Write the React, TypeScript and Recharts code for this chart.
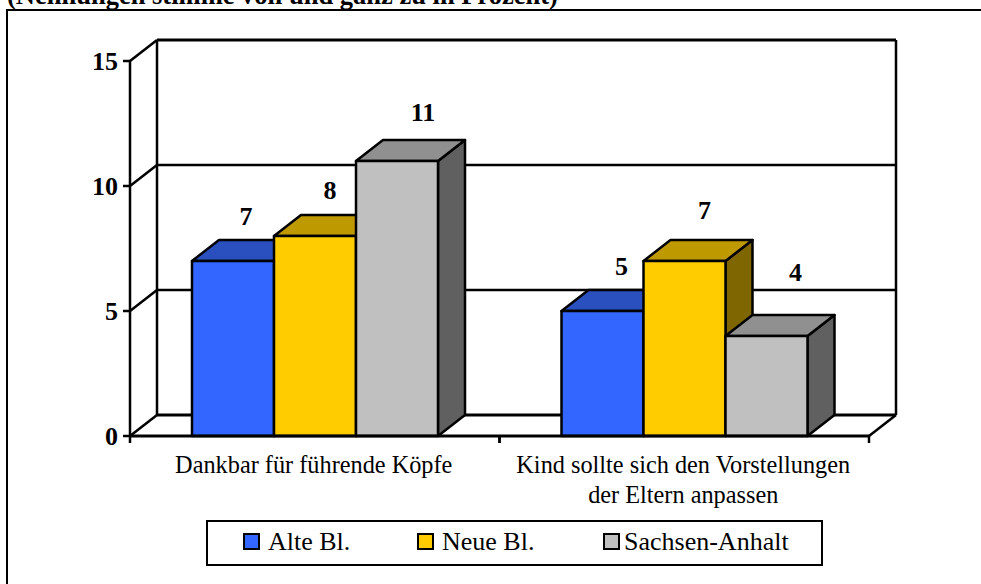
import React from "react";
import { BarChart, Bar, XAxis, YAxis, CartesianGrid, LabelList, Legend } from "recharts";

const categories = ["Dankbar für führende Köpfe", "Kind sollte sich den Vorstellungen der Eltern anpassen"];
const categoryLines = [["Dankbar für führende Köpfe"], ["Kind sollte sich den Vorstellungen", "der Eltern anpassen"]];
const alteBl = [7, 5];
const neueBl = [8, 7];
const sachsenAnhalt = [11, 4];
const yTicks = [0, 5, 10, 15];
const seriesNames = ["Alte Bl.", "Neue Bl.", "Sachsen-Anhalt"];
const titleText = "(Nennungen stimme voll und ganz zu in Prozent)";

const data = categories.map((name, i) => ({
  name,
  alte: alteBl[i],
  neue: neueBl[i],
  sachsen: sachsenAnhalt[i],
}));

const DX = 27;
const DY = -21;
const BAND = 369.5;
const PLOT_TOP = 61;
const PLOT_BOTTOM = 436;
const LINE = 2.5;
const SERIF = "'Liberation Serif', 'Times New Roman', serif";
const palette = [
  { front: "#3366ff", top: "#2a4fbf", side: "#1f3a8c" },
  { front: "#ffcc00", top: "#bf9900", side: "#806600" },
  { front: "#c0c0c0", top: "#909090", side: "#606060" },
];
const legendLefts = [35, 209, 395];
const labelNudges = [
  [[13, -36], [19, -36]],
  [[15, -37], [20, -42]],
  [[26, -40], [29, -55]],
];

const Box3D = (colors: typeof palette[number]) => (props: any) => {
  const { x, y, width, height } = props;
  const common = { stroke: "#000", strokeWidth: LINE, strokeLinejoin: "round" as const };
  return (
    <g>
      <polygon points={`${x + width},${y} ${x + width + DX},${y + DY} ${x + width + DX},${y + height + DY} ${x + width},${y + height}`} fill={colors.side} {...common} />
      <polygon points={`${x},${y} ${x + DX},${y + DY} ${x + width + DX},${y + DY} ${x + width},${y}`} fill={colors.top} {...common} />
      <rect x={x} y={y} width={width} height={height} fill={colors.front} {...common} />
    </g>
  );
};

const WallLine = (props: any) => {
  const { x1, x2, y1 } = props;
  const isTop = Math.abs(y1 - PLOT_TOP) < 1;
  const isFloor = Math.abs(y1 - PLOT_BOTTOM) < 1;
  return (
    <g stroke="#000" fill="none" strokeWidth={LINE}>
      <line x1={x1} y1={y1} x2={x1 + DX} y2={y1 + DY} />
      <line x1={x1 + DX} y1={y1 + DY} x2={x2 + DX} y2={y1 + DY} strokeWidth={isTop || isFloor ? 3 : LINE} />
      {isFloor && <line x1={x2} y1={y1} x2={x2 + DX} y2={y1 + DY} />}
      {isTop && (
        <>
          <line x1={x1} y1={y1} x2={x1} y2={PLOT_BOTTOM} />
          <line x1={x1 + DX} y1={y1 + DY} x2={x1 + DX} y2={PLOT_BOTTOM + DY} />
          <line x1={x2 + DX} y1={y1 + DY} x2={x2 + DX} y2={PLOT_BOTTOM + DY} />
        </>
      )}
    </g>
  );
};

const CategoryTick = (props: any) => {
  const { x, index } = props;
  const lines = categoryLines[index] || [];
  return (
    <g>
      <line x1={x - BAND / 2} y1={PLOT_BOTTOM} x2={x - BAND / 2} y2={PLOT_BOTTOM + 7} stroke="#000" strokeWidth={LINE} />
      <line x1={x + BAND / 2} y1={PLOT_BOTTOM} x2={x + BAND / 2} y2={PLOT_BOTTOM + 7} stroke="#000" strokeWidth={LINE} />
      {lines.map((t: string, i: number) => (
        <text key={i} x={x - 1} y={PLOT_BOTTOM + 37 + i * 30} textAnchor="middle" fontFamily={SERIF} fontSize={24.3} fill="#000">
          {t}
        </text>
      ))}
    </g>
  );
};

const ValueTick = (props: any) => {
  const { y, payload } = props;
  return (
    <g>
      <line x1={123} y1={y} x2={130} y2={y} stroke="#000" strokeWidth={LINE} />
      <text x={118} y={y + 9} textAnchor="end" fontFamily={SERIF} fontSize={26} fontWeight="bold" fill="#000">
        {payload.value}
      </text>
    </g>
  );
};

const ValueLabel = (seriesIndex: number) => (props: any) => {
  const { x, y, width, value, index } = props;
  const [nx, ny] = labelNudges[seriesIndex][index];
  return (
    <text x={x + width / 2 + nx} y={y + ny} textAnchor="middle" fontFamily={SERIF} fontSize={26} fontWeight="bold" fill="#000">
      {value}
    </text>
  );
};

const LegendBox = () => (
  <div style={{ position: "relative", width: 617, height: 46, boxSizing: "border-box", border: "2px solid #000", background: "#fff", fontFamily: SERIF, fontSize: 26, color: "#000" }}>
    {seriesNames.map((n, i) => (
      <div key={n} style={{ position: "absolute", left: legendLefts[i], top: 0, height: 39, display: "flex", alignItems: "center", whiteSpace: "nowrap" }}>
        <span style={{ display: "inline-block", width: 13, height: 13, border: "2px solid #000", background: palette[i].front, marginRight: i === 2 ? 4 : 8 }} />
        {n}
      </div>
    ))}
  </div>
);

export default function App() {
  return (
    <div style={{ position: "absolute", left: 0, top: 0, width: 981, height: 584, overflow: "hidden", background: "#fff" }}>
      <div style={{ position: "absolute", left: 6, top: 9, width: 1000, height: 600, border: "2px solid #000" }} />
      <div style={{ position: "absolute", left: 7, top: -20, fontFamily: SERIF, fontWeight: "bold", fontSize: 26.5, whiteSpace: "nowrap", color: "#000" }}>{titleText}</div>
      <BarChart
        width={981}
        height={584}
        data={data}
        margin={{ top: PLOT_TOP, right: 112, bottom: 0, left: 0 }}
        barSize={82}
        barGap={0}
        style={{ position: "absolute", left: 0, top: 0 }}
      >
        <CartesianGrid horizontal={WallLine as any} vertical={false} />
        <XAxis dataKey="name" height={102} interval={0} tick={CategoryTick as any} tickLine={false} axisLine={{ stroke: "#000", strokeWidth: 3 }} />
        <YAxis width={130} domain={[0, 15]} ticks={yTicks} tick={ValueTick as any} tickLine={false} axisLine={false} />
        <Bar dataKey="alte" name={seriesNames[0]} fill={palette[0].front} isAnimationActive={false} shape={Box3D(palette[0]) as any}>
          <LabelList dataKey="alte" content={ValueLabel(0) as any} />
        </Bar>
        <Bar dataKey="neue" name={seriesNames[1]} fill={palette[1].front} isAnimationActive={false} shape={Box3D(palette[1]) as any}>
          <LabelList dataKey="neue" content={ValueLabel(1) as any} />
        </Bar>
        <Bar dataKey="sachsen" name={seriesNames[2]} fill={palette[2].front} isAnimationActive={false} shape={Box3D(palette[2]) as any}>
          <LabelList dataKey="sachsen" content={ValueLabel(2) as any} />
        </Bar>
        <Legend content={LegendBox as any} wrapperStyle={{ position: "absolute", left: 206, top: 520, width: 617, height: 46 }} />
      </BarChart>
    </div>
  );
}
